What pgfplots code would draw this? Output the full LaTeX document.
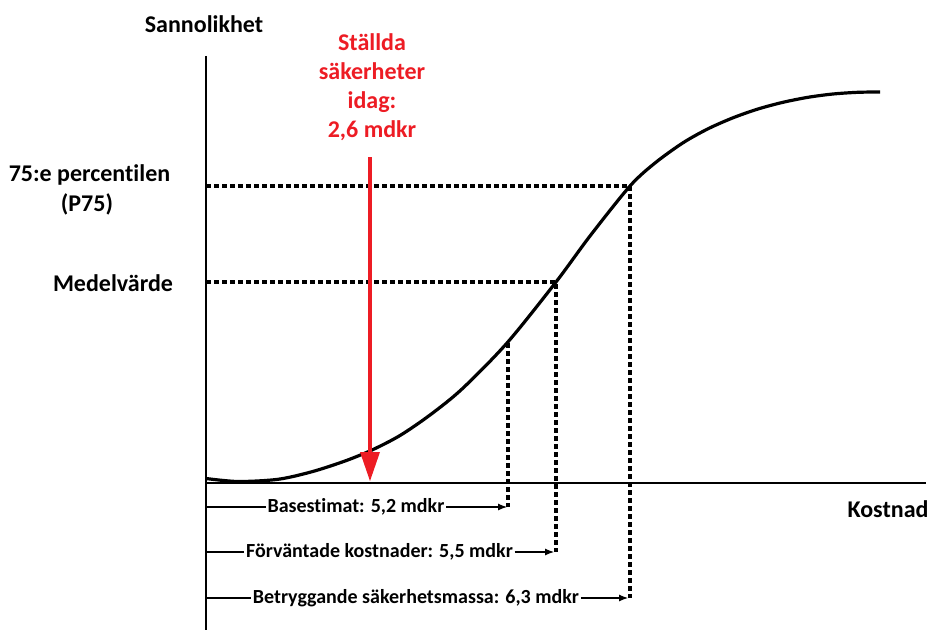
\documentclass[border=0pt]{standalone}
\usepackage{fontspec}
\setmainfont[Ligatures=NoCommon]{Carlito}
\usepackage{pgfplots}
\pgfplotsset{compat=1.18}
\usetikzlibrary{arrows.meta}
\definecolor{arrred}{RGB}{237,28,36}
\tikzset{
  big/.style={font=\bfseries\fontsize{24}{29}\selectfont, inner sep=0pt},
  small/.style={font=\bfseries\fontsize{20}{24}\selectfont, inner sep=1.5pt},
}
\begin{document}
\begin{tikzpicture}
\begin{axis}[x=1pt,y=1pt, y dir=reverse, xmin=0,xmax=931,ymin=0,ymax=630,
  hide axis, clip=false, scale only axis,
  ]
\path (axis cs:0,0) rectangle (axis cs:931,630);
% axes
\draw[line width=2.6pt] (axis cs:206,56) -- (axis cs:206,630);
\draw[line width=2.6pt] (axis cs:205,483) -- (axis cs:926,483);
% dashed guides
\addplot[black, line width=3.4pt, line cap=butt, dash pattern=on 5pt off 3pt] coordinates {(206,186) (630,186) (630,598)};
\addplot[black, line width=3.4pt, line cap=butt, dash pattern=on 5pt off 3pt] coordinates {(206,282) (556,282) (556,552)};
\addplot[black, line width=3.4pt, line cap=butt, dash pattern=on 5pt off 3pt] coordinates {(508,343) (508,507)};
% curve
\addplot[black, line width=3.2pt, smooth] coordinates {
(206,478.5) (238,481.5) (278,479.3) (312,471.7) (345,461) (372,450) (400,435.5)
(430,415) (462,389) (507,343) (556,282) (590,236) (630,186) (655,163) (683,142.8)
(708,128.8) (733,117.8) (758,109) (783,102.3) (808,97.3) (833,94) (858,92.3) (880,92)};
% red arrow
\draw[arrred, line width=4.5pt] (axis cs:370,157) -- (axis cs:370,455);
\fill[arrred] (axis cs:360,452) -- (axis cs:380,452) -- (axis cs:370,481) -- cycle;
\node[big, text=arrred, align=center] at (axis cs:372,87) {Ställda\\säkerheter\\idag:\\2,6 mdkr};
% labels
\node[big] at (axis cs:204,24) {Sannolikhet};
\node[big] at (axis cs:89.5,175) {75:e percentilen};
\node[big] at (axis cs:87,204) {(P75)};
\node[big] at (axis cs:113,283) {Medelvärde};
\node[big] at (axis cs:888,509) {Kostnad};
% bottom labels
\node[small] (b1) at (axis cs:356,507) {Basestimat: 5,2 mdkr};
\draw[line width=1.1pt] (axis cs:206,507) -- (b1.west);
\draw[line width=1.1pt, -{Latex[length=9pt,width=7pt]}] (b1.east) -- (axis cs:507,507);
\node[small] (b2) at (axis cs:379.5,552) {Förväntade kostnader: 5,5 mdkr};
\draw[line width=1.1pt] (axis cs:206,552) -- (b2.west);
\draw[line width=1.1pt, -{Latex[length=9pt,width=7pt]}] (b2.east) -- (axis cs:554,552);
\node[small] (b3) at (axis cs:416,598) {Betryggande säkerhetsmassa: 6,3 mdkr};
\draw[line width=1.1pt] (axis cs:206,598) -- (b3.west);
\draw[line width=1.1pt, -{Latex[length=9pt,width=7pt]}] (b3.east) -- (axis cs:628,598);
\end{axis}
\end{tikzpicture}
\end{document}
